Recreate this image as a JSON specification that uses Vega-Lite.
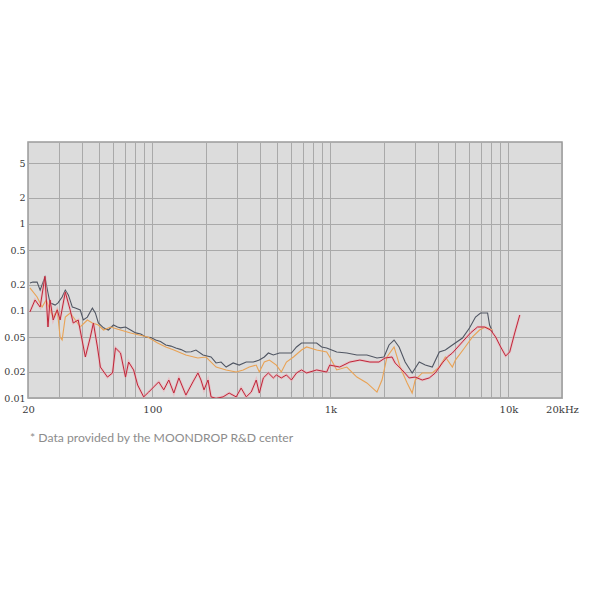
{
  "$schema": "https://vega.github.io/schema/vega-lite/v6.json",
  "width": 534,
  "height": 256,
  "autosize": {"type": "none"},
  "padding": {"left": 28, "top": 142, "right": 28, "bottom": 192},
  "background": "white",
  "config": {
    "view": {"fill": "#dcdcdc", "stroke": "#9a9a9a", "strokeWidth": 1.5}
  },
  "title": {
    "text": "*  Data provided by the MOONDROP R&D center",
    "orient": "bottom",
    "anchor": "start",
    "frame": "group",
    "offset": 18,
    "dx": 2,
    "font": "Lato",
    "fontSize": 12.2,
    "fontWeight": "normal",
    "color": "#8c8c8c"
  },
  "data": {
    "values": [
      {"s": "g", "f": 20.5, "v": 0.21},
      {"s": "g", "f": 21.3, "v": 0.215},
      {"s": "g", "f": 22.5, "v": 0.215},
      {"s": "g", "f": 23.4, "v": 0.174},
      {"s": "g", "f": 24.9, "v": 0.246},
      {"s": "g", "f": 25.9, "v": 0.161},
      {"s": "g", "f": 26.6, "v": 0.124},
      {"s": "g", "f": 28.4, "v": 0.117},
      {"s": "g", "f": 29.5, "v": 0.124},
      {"s": "g", "f": 31.1, "v": 0.145},
      {"s": "g", "f": 32.4, "v": 0.174},
      {"s": "g", "f": 33.7, "v": 0.153},
      {"s": "g", "f": 35.5, "v": 0.111},
      {"s": "g", "f": 36.9, "v": 0.108},
      {"s": "g", "f": 39.3, "v": 0.103},
      {"s": "g", "f": 40.9, "v": 0.079},
      {"s": "g", "f": 43.1, "v": 0.085},
      {"s": "g", "f": 46.0, "v": 0.108},
      {"s": "g", "f": 47.8, "v": 0.095},
      {"s": "g", "f": 49.7, "v": 0.073},
      {"s": "g", "f": 53.1, "v": 0.064},
      {"s": "g", "f": 56.6, "v": 0.0605},
      {"s": "g", "f": 60.4, "v": 0.069},
      {"s": "g", "f": 63.7, "v": 0.0655},
      {"s": "g", "f": 66.2, "v": 0.064},
      {"s": "g", "f": 70.6, "v": 0.0655},
      {"s": "g", "f": 75.4, "v": 0.0605},
      {"s": "g", "f": 80.5, "v": 0.056},
      {"s": "g", "f": 86.0, "v": 0.0545},
      {"s": "g", "f": 91.6, "v": 0.0503},
      {"s": "g", "f": 98.0, "v": 0.0495},
      {"s": "g", "f": 104.4, "v": 0.0464},
      {"s": "g", "f": 111.0, "v": 0.0445},
      {"s": "g", "f": 118.9, "v": 0.0407},
      {"s": "g", "f": 127.0, "v": 0.0395},
      {"s": "g", "f": 135.4, "v": 0.0376},
      {"s": "g", "f": 145.0, "v": 0.036},
      {"s": "g", "f": 154.2, "v": 0.0338},
      {"s": "g", "f": 165.0, "v": 0.034},
      {"s": "g", "f": 175.6, "v": 0.0356},
      {"s": "g", "f": 192.4, "v": 0.0312},
      {"s": "g", "f": 213.5, "v": 0.0296},
      {"s": "g", "f": 227.8, "v": 0.0253},
      {"s": "g", "f": 243.1, "v": 0.0259},
      {"s": "g", "f": 259.5, "v": 0.0227},
      {"s": "g", "f": 284.2, "v": 0.0253},
      {"s": "g", "f": 307.2, "v": 0.0239},
      {"s": "g", "f": 336.6, "v": 0.0259},
      {"s": "g", "f": 368.6, "v": 0.0259},
      {"s": "g", "f": 398.6, "v": 0.0273},
      {"s": "g", "f": 425.3, "v": 0.0296},
      {"s": "g", "f": 448.0, "v": 0.0329},
      {"s": "g", "f": 478.0, "v": 0.0312},
      {"s": "g", "f": 517.0, "v": 0.0329},
      {"s": "g", "f": 566.0, "v": 0.0329},
      {"s": "g", "f": 604.0, "v": 0.0329},
      {"s": "g", "f": 645.0, "v": 0.0386},
      {"s": "g", "f": 688.0, "v": 0.0429},
      {"s": "g", "f": 735.0, "v": 0.0429},
      {"s": "g", "f": 784.0, "v": 0.0429},
      {"s": "g", "f": 837.0, "v": 0.0429},
      {"s": "g", "f": 893.0, "v": 0.0386},
      {"s": "g", "f": 953.0, "v": 0.0376},
      {"s": "g", "f": 1017, "v": 0.0356},
      {"s": "g", "f": 1085, "v": 0.0338},
      {"s": "g", "f": 1236, "v": 0.0329},
      {"s": "g", "f": 1408, "v": 0.0312},
      {"s": "g", "f": 1603, "v": 0.0312},
      {"s": "g", "f": 1826, "v": 0.0288},
      {"s": "g", "f": 2000, "v": 0.0296},
      {"s": "g", "f": 2134, "v": 0.0407},
      {"s": "g", "f": 2278, "v": 0.0464},
      {"s": "g", "f": 2431, "v": 0.0386},
      {"s": "g", "f": 2629, "v": 0.0259},
      {"s": "g", "f": 2879, "v": 0.0194},
      {"s": "g", "f": 3154, "v": 0.0259},
      {"s": "g", "f": 3410, "v": 0.0239},
      {"s": "g", "f": 3734, "v": 0.0227},
      {"s": "g", "f": 4091, "v": 0.0338},
      {"s": "g", "f": 4423, "v": 0.0356},
      {"s": "g", "f": 4844, "v": 0.0407},
      {"s": "g", "f": 5517, "v": 0.0489},
      {"s": "g", "f": 6043, "v": 0.0638},
      {"s": "g", "f": 6534, "v": 0.0853},
      {"s": "g", "f": 6971, "v": 0.0948},
      {"s": "g", "f": 7638, "v": 0.0948},
      {"s": "g", "f": 7838, "v": 0.069},
      {"s": "g", "f": 8150, "v": 0.0574},

      {"s": "o", "f": 20.5, "v": 0.184},
      {"s": "o", "f": 22.5, "v": 0.145},
      {"s": "o", "f": 24.0, "v": 0.111},
      {"s": "o", "f": 25.3, "v": 0.134},
      {"s": "o", "f": 26.6, "v": 0.103},
      {"s": "o", "f": 27.7, "v": 0.085},
      {"s": "o", "f": 29.2, "v": 0.103},
      {"s": "o", "f": 30.3, "v": 0.0503},
      {"s": "o", "f": 31.1, "v": 0.0464},
      {"s": "o", "f": 32.4, "v": 0.0853},
      {"s": "o", "f": 34.5, "v": 0.0948},
      {"s": "o", "f": 36.9, "v": 0.0788},
      {"s": "o", "f": 39.3, "v": 0.0655},
      {"s": "o", "f": 43.1, "v": 0.0788},
      {"s": "o", "f": 46.0, "v": 0.0728},
      {"s": "o", "f": 49.7, "v": 0.069},
      {"s": "o", "f": 53.1, "v": 0.0605},
      {"s": "o", "f": 58.1, "v": 0.0655},
      {"s": "o", "f": 66.2, "v": 0.0605},
      {"s": "o", "f": 75.4, "v": 0.0559},
      {"s": "o", "f": 94.0, "v": 0.0503},
      {"s": "o", "f": 107.0, "v": 0.0429},
      {"s": "o", "f": 119.0, "v": 0.0386},
      {"s": "o", "f": 132.0, "v": 0.0356},
      {"s": "o", "f": 154.0, "v": 0.0312},
      {"s": "o", "f": 180.0, "v": 0.0288},
      {"s": "o", "f": 200.0, "v": 0.0296},
      {"s": "o", "f": 228.0, "v": 0.0227},
      {"s": "o", "f": 259.5, "v": 0.021},
      {"s": "o", "f": 295.5, "v": 0.0199},
      {"s": "o", "f": 323.6, "v": 0.021},
      {"s": "o", "f": 350.0, "v": 0.0227},
      {"s": "o", "f": 383.0, "v": 0.0239},
      {"s": "o", "f": 398.6, "v": 0.0199},
      {"s": "o", "f": 425.0, "v": 0.0259},
      {"s": "o", "f": 454.0, "v": 0.0273},
      {"s": "o", "f": 497.0, "v": 0.0239},
      {"s": "o", "f": 530.0, "v": 0.0199},
      {"s": "o", "f": 566.0, "v": 0.0259},
      {"s": "o", "f": 620.0, "v": 0.0296},
      {"s": "o", "f": 688.0, "v": 0.0356},
      {"s": "o", "f": 735.0, "v": 0.0386},
      {"s": "o", "f": 837.0, "v": 0.0356},
      {"s": "o", "f": 953.0, "v": 0.0338},
      {"s": "o", "f": 991.0, "v": 0.0296},
      {"s": "o", "f": 1085, "v": 0.021},
      {"s": "o", "f": 1236, "v": 0.0227},
      {"s": "o", "f": 1408, "v": 0.0174},
      {"s": "o", "f": 1603, "v": 0.0149},
      {"s": "o", "f": 1826, "v": 0.0117},
      {"s": "o", "f": 1949, "v": 0.0161},
      {"s": "o", "f": 2079, "v": 0.0296},
      {"s": "o", "f": 2278, "v": 0.0386},
      {"s": "o", "f": 2462, "v": 0.0227},
      {"s": "o", "f": 2698, "v": 0.0149},
      {"s": "o", "f": 2879, "v": 0.0114},
      {"s": "o", "f": 2993, "v": 0.0161},
      {"s": "o", "f": 3280, "v": 0.0194},
      {"s": "o", "f": 3734, "v": 0.0194},
      {"s": "o", "f": 4091, "v": 0.0227},
      {"s": "o", "f": 4423, "v": 0.0296},
      {"s": "o", "f": 4844, "v": 0.0227},
      {"s": "o", "f": 5037, "v": 0.0273},
      {"s": "o", "f": 5662, "v": 0.0376},
      {"s": "o", "f": 6284, "v": 0.0503},
      {"s": "o", "f": 6882, "v": 0.0605},
      {"s": "o", "f": 7442, "v": 0.0655},
      {"s": "o", "f": 8150, "v": 0.0605},

      {"s": "r", "f": 20.5, "v": 0.0974},
      {"s": "r", "f": 21.9, "v": 0.134},
      {"s": "r", "f": 23.4, "v": 0.111},
      {"s": "r", "f": 24.9, "v": 0.25},
      {"s": "r", "f": 25.9, "v": 0.0655},
      {"s": "r", "f": 26.6, "v": 0.134},
      {"s": "r", "f": 27.7, "v": 0.0788},
      {"s": "r", "f": 29.2, "v": 0.103},
      {"s": "r", "f": 30.3, "v": 0.0788},
      {"s": "r", "f": 32.4, "v": 0.165},
      {"s": "r", "f": 34.5, "v": 0.103},
      {"s": "r", "f": 35.9, "v": 0.0728},
      {"s": "r", "f": 38.3, "v": 0.0788},
      {"s": "r", "f": 42.0, "v": 0.0296},
      {"s": "r", "f": 44.8, "v": 0.0503},
      {"s": "r", "f": 46.6, "v": 0.0728},
      {"s": "r", "f": 49.1, "v": 0.0386},
      {"s": "r", "f": 51.0, "v": 0.0227},
      {"s": "r", "f": 55.9, "v": 0.0174},
      {"s": "r", "f": 59.7, "v": 0.0194},
      {"s": "r", "f": 62.0, "v": 0.0376},
      {"s": "r", "f": 66.2, "v": 0.0329},
      {"s": "r", "f": 70.6, "v": 0.0174},
      {"s": "r", "f": 73.5, "v": 0.0259},
      {"s": "r", "f": 78.4, "v": 0.021},
      {"s": "r", "f": 82.6, "v": 0.0141},
      {"s": "r", "f": 89.3, "v": 0.0103},
      {"s": "r", "f": 95.3, "v": 0.0117},
      {"s": "r", "f": 101.7, "v": 0.0134},
      {"s": "r", "f": 108.5, "v": 0.0153},
      {"s": "r", "f": 115.8, "v": 0.0124},
      {"s": "r", "f": 123.6, "v": 0.0161},
      {"s": "r", "f": 131.9, "v": 0.0114},
      {"s": "r", "f": 140.8, "v": 0.017},
      {"s": "r", "f": 154.2, "v": 0.0108},
      {"s": "r", "f": 168.9, "v": 0.0153},
      {"s": "r", "f": 180.2, "v": 0.0194},
      {"s": "r", "f": 187.4, "v": 0.0161},
      {"s": "r", "f": 194.9, "v": 0.0124},
      {"s": "r", "f": 205.3, "v": 0.0161},
      {"s": "r", "f": 213.5, "v": 0.0103},
      {"s": "r", "f": 227.8, "v": 0.0099},
      {"s": "r", "f": 249.5, "v": 0.0103},
      {"s": "r", "f": 269.8, "v": 0.0114},
      {"s": "r", "f": 295.5, "v": 0.0103},
      {"s": "r", "f": 315.0, "v": 0.013},
      {"s": "r", "f": 336.6, "v": 0.0103},
      {"s": "r", "f": 359.0, "v": 0.0117},
      {"s": "r", "f": 383.0, "v": 0.0161},
      {"s": "r", "f": 398.6, "v": 0.0114},
      {"s": "r", "f": 420.0, "v": 0.017},
      {"s": "r", "f": 448.0, "v": 0.0194},
      {"s": "r", "f": 478.0, "v": 0.017},
      {"s": "r", "f": 497.0, "v": 0.0184},
      {"s": "r", "f": 530.0, "v": 0.017},
      {"s": "r", "f": 566.0, "v": 0.0184},
      {"s": "r", "f": 604.0, "v": 0.0161},
      {"s": "r", "f": 645.0, "v": 0.0194},
      {"s": "r", "f": 688.0, "v": 0.021},
      {"s": "r", "f": 735.0, "v": 0.0194},
      {"s": "r", "f": 837.0, "v": 0.021},
      {"s": "r", "f": 953.0, "v": 0.0199},
      {"s": "r", "f": 991.0, "v": 0.0239},
      {"s": "r", "f": 1128, "v": 0.0227},
      {"s": "r", "f": 1285, "v": 0.0259},
      {"s": "r", "f": 1464, "v": 0.0273},
      {"s": "r", "f": 1667, "v": 0.0259},
      {"s": "r", "f": 1874, "v": 0.0259},
      {"s": "r", "f": 2026, "v": 0.0288},
      {"s": "r", "f": 2219, "v": 0.0296},
      {"s": "r", "f": 2308, "v": 0.0253},
      {"s": "r", "f": 2528, "v": 0.021},
      {"s": "r", "f": 2769, "v": 0.017},
      {"s": "r", "f": 2993, "v": 0.0174},
      {"s": "r", "f": 3280, "v": 0.0161},
      {"s": "r", "f": 3592, "v": 0.017},
      {"s": "r", "f": 3883, "v": 0.0194},
      {"s": "r", "f": 4254, "v": 0.0253},
      {"s": "r", "f": 4538, "v": 0.0296},
      {"s": "r", "f": 4844, "v": 0.0329},
      {"s": "r", "f": 5517, "v": 0.0442},
      {"s": "r", "f": 6122, "v": 0.0559},
      {"s": "r", "f": 6706, "v": 0.0655},
      {"s": "r", "f": 7346, "v": 0.0655},
      {"s": "r", "f": 7941, "v": 0.0605},
      {"s": "r", "f": 8475, "v": 0.0503},
      {"s": "r", "f": 9046, "v": 0.0386},
      {"s": "r", "f": 9653, "v": 0.0304},
      {"s": "r", "f": 10168, "v": 0.0338},
      {"s": "r", "f": 10851, "v": 0.0559},
      {"s": "r", "f": 11583, "v": 0.09}
    ]
  },
  "encoding": {
    "x": {
      "field": "f",
      "type": "quantitative",
      "scale": {"type": "log", "domain": [20, 20000], "nice": false},
      "axis": {
        "title": null,
        "values": [20, 30, 40, 50, 60, 70, 80, 90, 100, 200, 300, 400, 500, 600, 700, 800, 900, 1000, 2000, 3000, 4000, 5000, 6000, 7000, 8000, 9000, 10000, 20000],
        "labelExpr": "datum.value == 20 ? '20' : datum.value == 100 ? '100' : datum.value == 1000 ? '1k' : datum.value == 10000 ? '10k' : datum.value == 20000 ? '20kHz' : ''",
        "labelOverlap": false,
        "labelBound": false,
        "labelFlush": false,
        "ticks": false,
        "domain": false,
        "grid": true,
        "gridColor": "#a9a9a9",
        "gridWidth": 1,
        "gridOpacity": 1,
        "labelFont": "DejaVu Serif",
        "labelFontSize": 10,
        "labelColor": "#3a3a3a",
        "labelPadding": 6
      }
    },
    "y": {
      "field": "v",
      "type": "quantitative",
      "scale": {"type": "log", "domain": [0.01, 8.76], "nice": false},
      "axis": {
        "title": null,
        "values": [0.01, 0.02, 0.05, 0.1, 0.2, 0.5, 1, 2, 5],
        "labelExpr": "datum.value + ''",
        "labelOverlap": false,
        "labelBound": false,
        "labelFlush": false,
        "ticks": false,
        "domain": false,
        "grid": true,
        "gridColor": "#a9a9a9",
        "gridWidth": 1,
        "gridOpacity": 1,
        "labelFont": "DejaVu Serif",
        "labelFontSize": 9.5,
        "labelColor": "#3a3a3a",
        "labelPadding": 3
      }
    }
  },
  "layer": [
    {
      "transform": [{"filter": "datum.s == 'g'"}],
      "mark": {"type": "line", "color": "#505663", "strokeWidth": 1.1, "clip": true}
    },
    {
      "transform": [{"filter": "datum.s == 'o'"}],
      "mark": {"type": "line", "color": "#e9a254", "strokeWidth": 1.1, "clip": true}
    },
    {
      "transform": [{"filter": "datum.s == 'r'"}],
      "mark": {"type": "line", "color": "#f4a0aa", "strokeWidth": 2.6, "opacity": 0.45, "clip": true}
    },
    {
      "transform": [{"filter": "datum.s == 'r'"}],
      "mark": {"type": "line", "color": "#be2639", "strokeWidth": 1, "clip": true}
    }
  ]
}
